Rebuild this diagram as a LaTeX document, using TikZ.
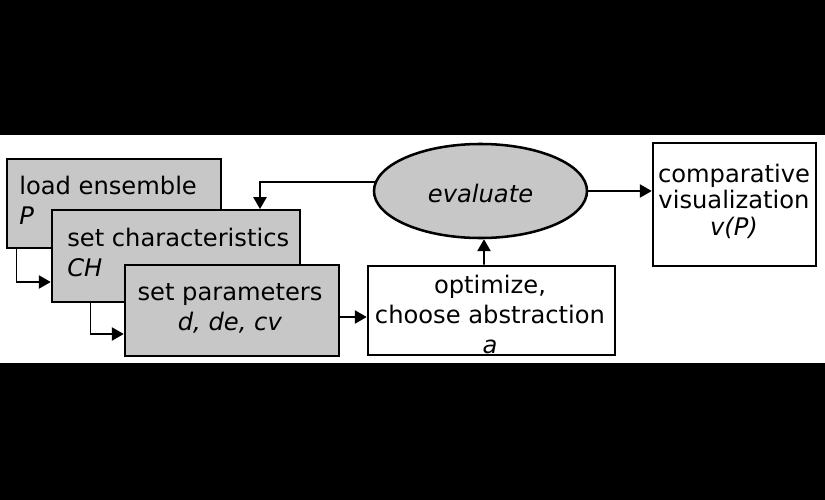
\documentclass[tikz,border=0pt]{standalone}
\usepackage{fontspec}
\setmainfont{DejaVu Sans}
\usetikzlibrary{shapes.geometric,arrows.meta,calc}
\tikzset{stage/.style={draw,line width=1.8pt,fill=black!22,inner sep=0pt}}
\tikzset{result/.style={draw,line width=1.8pt,fill=white,inner sep=0pt}}
\tikzset{txt/.style={inner sep=0pt,font=\fontsize{17.2}{21.3}\selectfont}}
\tikzset{flow/.style={line width=1.1pt,-{Triangle[length=8.5pt,width=9.5pt]}}}

\begin{document}
\begin{tikzpicture}[x=0.025cm,y=-0.025cm]
        \useasboundingbox (0,0) rectangle (825,500);
        \fill[black] (0,0) rectangle (825,500);
        \fill[white] (0,135) rectangle (825,363);
        \node[stage,minimum width=5.35cm,minimum height=2.225cm] (load) at (114,203.5) {};
        \node[txt,align=left,anchor=north west] (loadtxt) at (19,175.5) {load ensemble\\\textit{P}};
        \node[stage,minimum width=6.2cm,minimum height=2.3cm] (setchar) at (176,256) {};
        \node[txt,align=left,anchor=north west] (chartxt) at (67,227.5) {set characteristics\\\textit{CH}};
        \node[stage,minimum width=5.35cm,minimum height=2.275cm] (setpar) at (232,310.5) {};
        \node[txt,align=center,anchor=north] (partxt) at (230,283) {set parameters\\\textit{d, de, cv}};
        \node[result,minimum width=6.175cm,minimum height=2.225cm] (optim) at (491.5,310.5) {};
        \node[txt,align=center,anchor=north] (opttxt) at (490,275) {optimize,\\choose abstraction\\\textit{a}};
        \node[stage,ellipse,minimum width=5.325cm,minimum height=2.35cm,txt,text height=17pt] (evaluate) at (480.5,191) {\textit{evaluate}};
        \node[result,minimum width=4.075cm,minimum height=3.075cm] (compvis) at (734.5,204.5) {};
        \node[txt,font=\fontsize{17.2}{19}\selectfont,align=center,anchor=north] (comptxt) at (734,163.5) {comparative\\visualization\\\textit{v(P)}};
        \coordinate (back) at (260,209);
        \draw[flow] ($(load.south west)+(11,0)$) |- ($(setchar.west)+(0,26)$);
        \draw[flow] ($(setchar.south west)+(40,0)$) |- ($(setpar.west)+(0,23.5)$);
        \draw[flow] ($(setpar.east)+(0,6.5)$) -- ($(optim.west)+(0,6.5)$);
        \draw[flow] ($(optim.north)+(-7.5,0)$) -- ($(evaluate.south)+(3.5,0)$);
        \draw[flow] (evaluate.175) -| (back);
        \draw[flow] (evaluate.east) -- (evaluate.east -| compvis.west);
    \end{tikzpicture}
\end{document}
